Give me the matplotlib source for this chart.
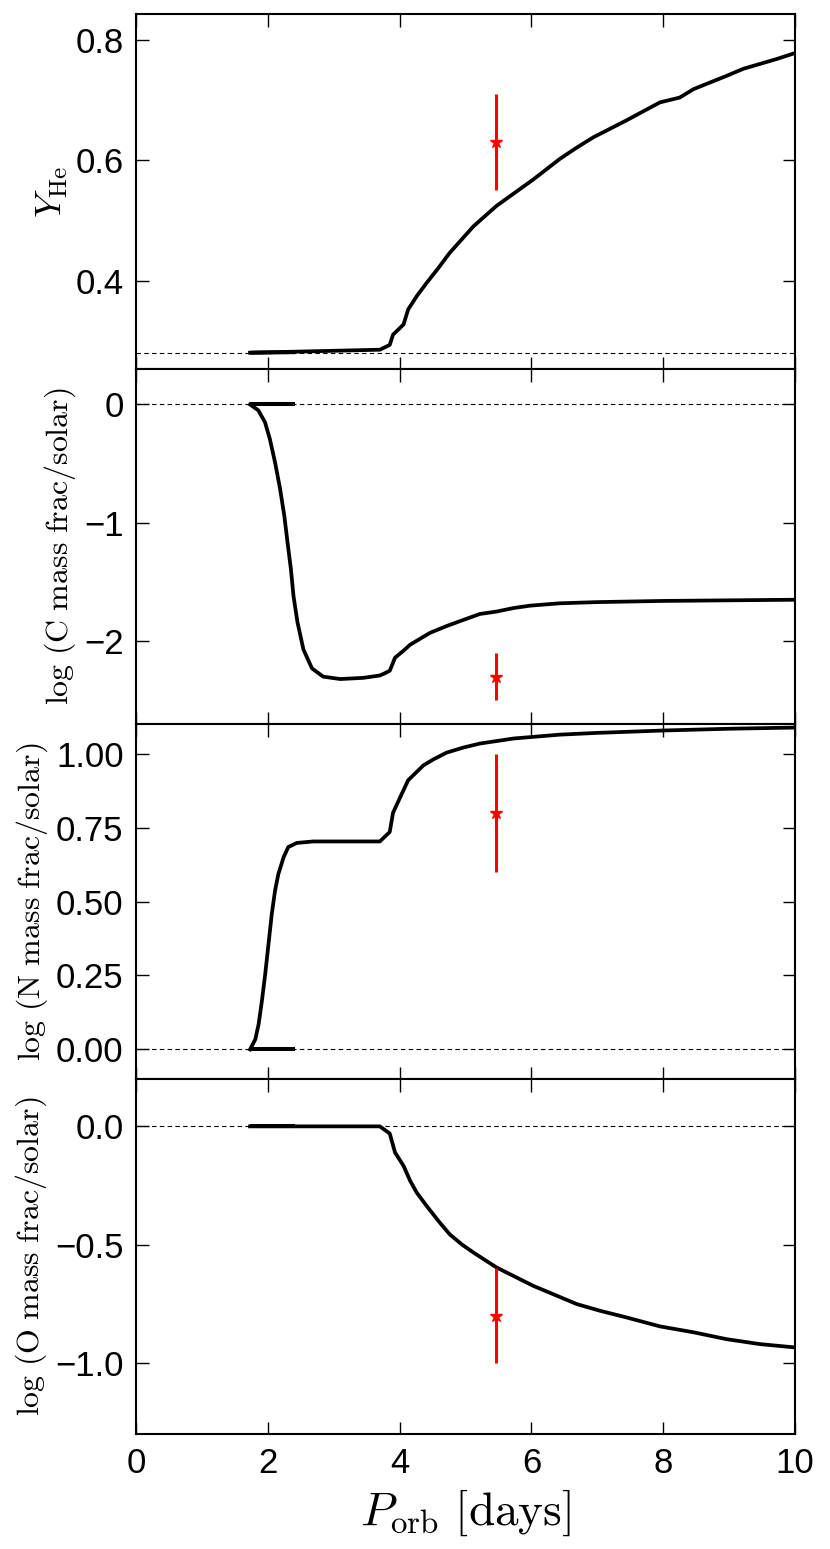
import matplotlib
matplotlib.use("Agg")
import matplotlib.pyplot as plt
from matplotlib.ticker import FuncFormatter

plt.rcParams['font.family'] = ['Liberation Sans', 'DejaVu Sans']
plt.rcParams['mathtext.fontset'] = 'cm'

# orbital period track (days); the track first runs back from 2.41 to 1.73 d
p_pre = [2.41, 1.73]
p_yhe = [1.73, 3.70, 3.85, 3.90, 4.06, 4.13, 4.26, 4.41, 4.59, 4.76, 4.94,
         5.12, 5.47, 5.75, 6.03, 6.43, 6.69, 6.94, 7.19, 7.44, 7.95, 8.25,
         8.46, 8.71, 8.96, 9.22, 9.47, 9.72, 10.0]
y_he = [0.280, 0.285, 0.293, 0.310, 0.327, 0.352, 0.374, 0.396, 0.421, 0.446,
        0.468, 0.490, 0.524, 0.546, 0.568, 0.602, 0.621, 0.638, 0.652, 0.666,
        0.696, 0.704, 0.718, 0.729, 0.740, 0.752, 0.760, 0.768, 0.778]
y_he_pre = [0.281, 0.280]

p_c = [1.73, 1.856, 1.957, 2.03, 2.11, 2.185, 2.25, 2.30, 2.35, 2.39, 2.45,
       2.54, 2.67, 2.84, 3.10, 3.45, 3.70, 3.78, 3.85, 3.88, 3.93, 4.06,
       4.16, 4.46, 4.71, 4.97, 5.22, 5.47, 5.73, 5.98, 6.43, 7.0, 8.0, 9.0,
       10.0]
log_c = [0.0, -0.05, -0.15, -0.29, -0.49, -0.71, -0.94, -1.17, -1.39, -1.62,
         -1.84, -2.07, -2.23, -2.30, -2.32, -2.31, -2.29, -2.27, -2.25, -2.21,
         -2.14, -2.08, -2.03, -1.93, -1.873, -1.82, -1.77, -1.75, -1.72,
         -1.70, -1.68, -1.67, -1.66, -1.655, -1.65]

p_n = [1.73, 1.81, 1.86, 1.91, 1.96, 2.01, 2.06, 2.11, 2.16, 2.24, 2.31,
       2.44, 2.69, 3.10, 3.70, 3.85, 3.90, 4.01, 4.13, 4.36, 4.51, 4.71,
       4.96, 5.22, 5.73, 6.43, 7.0, 8.0, 9.0, 10.0]
log_n = [0.0, 0.034, 0.085, 0.164, 0.254, 0.356, 0.458, 0.537, 0.593, 0.65,
         0.684, 0.698, 0.703, 0.703, 0.703, 0.735, 0.80, 0.853, 0.91, 0.96,
         0.98, 1.003, 1.02, 1.034, 1.051, 1.064, 1.07, 1.078, 1.084, 1.088]

p_o = [1.73, 3.70, 3.85, 3.93, 4.06, 4.16, 4.26, 4.41, 4.59, 4.76, 4.94,
       5.12, 5.47, 6.03, 6.33, 6.69, 7.04, 7.44, 7.95, 8.46, 8.96, 9.47, 10.0]
log_o = [0.0, 0.0, -0.03, -0.11, -0.167, -0.23, -0.28, -0.336, -0.40, -0.456,
         -0.498, -0.533, -0.596, -0.674, -0.709, -0.751, -0.779, -0.807,
         -0.845, -0.87, -0.899, -0.92, -0.934]

# observed values with errors
p_obs = 5.47
obs = [0.63, -2.3, 0.8, -0.8]
obs_err = [0.08, 0.2, 0.2, 0.2]
ref_lines = [0.28, 0.0, 0.0, 0.0]

ylabels = [r'$Y_{\rm He}$',
           r'$\log\,(\mathrm{C\ mass\ frac/solar})$',
           r'$\log\,(\mathrm{N\ mass\ frac/solar})$',
           r'$\log\,(\mathrm{O\ mass\ frac/solar})$']
ylims = [(0.253, 0.843), (-2.7, 0.3), (-0.1, 1.1), (-1.3, 0.2)]
yticks = [[0.4, 0.6, 0.8], [-2, -1, 0], [0.0, 0.25, 0.5, 0.75, 1.0],
          [-1.0, -0.5, 0.0]]
yfmt = ['%.1f', '%d', '%.2f', '%.1f']

tracks = [(p_yhe, y_he, y_he_pre), (p_c, log_c, [0.0, 0.0]),
          (p_n, log_n, [0.0, 0.0]), (p_o, log_o, [0.0, 0.0])]


def minus_fmt(fmt):
    return FuncFormatter(lambda v, pos: (fmt % v).replace('-', '\u2212'))


fig, axes = plt.subplots(4, 1, sharex=True, figsize=(8.3, 15.49), dpi=100)
fig.subplots_adjust(left=0.1639, right=0.9578, top=0.991, bottom=0.0742,
                    hspace=0)

for i, ax in enumerate(axes):
    px, py, pre = tracks[i]
    ax.axhline(ref_lines[i], color='k', ls=(0, (4, 3)), lw=0.8)
    ax.plot(p_pre, pre, color='k', lw=2.9, solid_capstyle='butt')
    ax.plot(px, py, color='k', lw=2.7)
    ax.errorbar(p_obs, obs[i], yerr=obs_err[i], fmt='*', color='red',
                ms=9, elinewidth=2.2, capsize=0)
    ax.set_ylim(*ylims[i])
    ax.set_yticks(yticks[i])
    ax.yaxis.set_major_formatter(minus_fmt(yfmt[i]))
    ax.set_ylabel(ylabels[i], fontsize=26 if i == 0 else 23, labelpad=4)
    ax.tick_params(direction='in', top=True, right=True, length=9, width=1,
                   labelsize=25, pad=9)
    for s in ax.spines.values():
        s.set_linewidth(1.5)

axes[-1].set_xlim(0, 10)
axes[-1].set_xticks([0, 2, 4, 6, 8, 10])
axes[-1].set_xlabel(r'$P_{\rm orb}\ [\mathrm{days}]$', fontsize=34, labelpad=6)

fig.savefig('out.png', dpi=100)
